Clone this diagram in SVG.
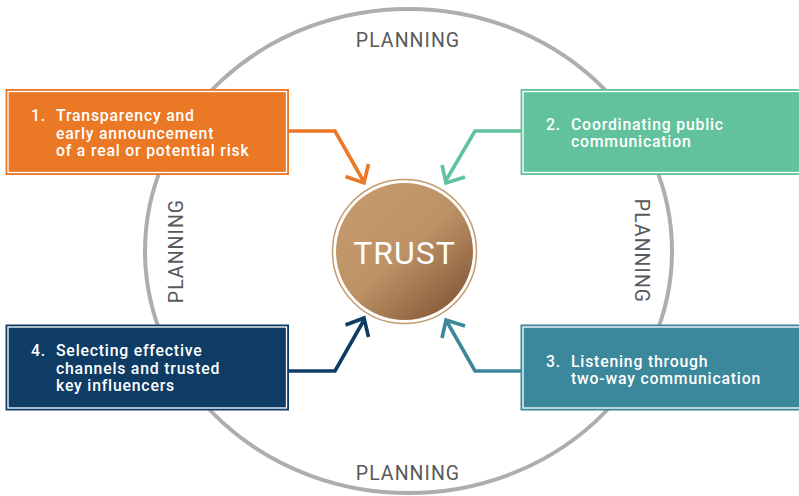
<svg xmlns="http://www.w3.org/2000/svg" width="799" height="496" viewBox="0 0 799 496">
<style>
text{font-family:Roboto,"Liberation Sans",sans-serif}
.plan{font-size:19.5px;fill:#58595b;letter-spacing:1.05px;text-anchor:middle}
.lab{font-size:15.8px;fill:#fff;letter-spacing:.8px;font-weight:500}
.conn{fill:none;stroke-width:3.6}
.inner{fill:none;stroke:#fff;stroke-width:1.3}
</style>
<defs><linearGradient id="g" x1="0.15" y1="0.1" x2="0.85" y2="0.9"><stop offset="0" stop-color="#c49a6c"/><stop offset="0.5" stop-color="#bd9266"/><stop offset="1" stop-color="#8a5d3b"/></linearGradient></defs>
<ellipse id="planning-ring" cx="408.500" cy="251" rx="263.500" ry="242" fill="none" stroke="#aeaeb2" stroke-width="4"/>
<g id="connectors">
<path class="conn" stroke="#ea7825" d="M289 131H335L364 182M345.500 176.500L364 183L368.500 164"/>
<path class="conn" stroke="#62c29d" d="M521 131H475L445 182M442 165L446 183L465 177"/>
<path class="conn" stroke="#0e3c64" d="M289 371H335L364 320M345.500 325L364 318L368.500 337"/>
<path class="conn" stroke="#3b879b" d="M521 371H475L446 320M442 338L446 320L465 326"/>
</g>
<g id="node1"><rect x="5.500" y="89" width="283.500" height="86" fill="#ea7825"/><rect class="inner" x="8" y="91.500" width="278.500" height="81"/><text class="lab" y="121"><tspan x="31">1.</tspan><tspan x="56">Transparency and</tspan><tspan x="56" dy="17.500">early announcement</tspan><tspan x="56" dy="17.500">of a real or potential risk</tspan></text></g>
<g id="node2"><rect x="520.500" y="89" width="278.500" height="86" fill="#62c29d"/><rect class="inner" x="523" y="91.500" width="280" height="81"/><text class="lab" y="129.800"><tspan x="546">2.</tspan><tspan x="571">Coordinating public</tspan><tspan x="571" dy="17.500">communication</tspan></text></g>
<g id="node3"><rect x="520.500" y="324.500" width="278.500" height="86" fill="#3b879b"/><rect class="inner" x="523" y="327" width="280" height="81"/><text class="lab" y="366.800"><tspan x="546">3.</tspan><tspan x="571">Listening through</tspan><tspan x="571" dy="17.500">two-way communication</tspan></text></g>
<g id="node4"><rect x="5.500" y="324.500" width="283.500" height="86" fill="#0e3c64"/><rect class="inner" x="8" y="327" width="278.500" height="81"/><text class="lab" y="356"><tspan x="31">4.</tspan><tspan x="56">Selecting effective</tspan><tspan x="56" dy="17.500">channels and trusted</tspan><tspan x="56" dy="17.500">key influencers</tspan></text></g>
<g id="trust"><circle cx="404.500" cy="251.500" r="72" fill="#fff" stroke="#c49a6c" stroke-width="1.500"/><circle cx="404.500" cy="251.500" r="68.500" fill="url(#g)"/><text x="404.500" y="263.500" text-anchor="middle" font-size="32" letter-spacing="1" fill="#fff">TRUST</text></g>
<g id="planning-labels">
<text class="plan" x="408" y="47">PLANNING</text>
<text class="plan" x="408" y="480">PLANNING</text>
<text class="plan" transform="translate(183 251) rotate(-90)">PLANNING</text>
<text class="plan" transform="translate(635 251) rotate(90)">PLANNING</text>
</g>
</svg>
